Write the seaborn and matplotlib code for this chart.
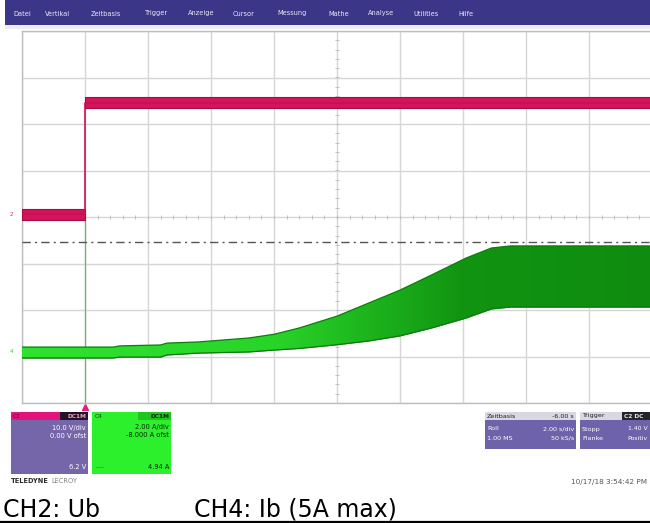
import numpy as np
import matplotlib
matplotlib.use("Agg")
import matplotlib.pyplot as plt
import seaborn as sns
from matplotlib.patches import Rectangle
from matplotlib.lines import Line2D
from matplotlib.colors import LinearSegmentedColormap

# ---------------- data ----------------
# CH2: Ub  (10 V/div), step at trigger
ub_t = [0.0, 2.0, 2.0, 20.0]          # s
ub_v = [0.0, 0.0, 24.0, 24.0]         # V
ub_ripple = 1.2                       # V (half band width)

# CH4: Ib  (2 A/div) envelope of the current
ib_t = [0.0, 1.0, 2.0, 2.9, 3.1, 4.4, 4.6, 5.6, 7.2, 8.0, 8.8, 10.0,
        11.0, 12.0, 13.0, 14.1, 14.9, 15.5, 20.0]
ib_hi = [0.17, 0.17, 0.17, 0.17, 0.22, 0.26, 0.34, 0.39, 0.56, 0.72, 0.99,
         1.50, 2.06, 2.62, 3.27, 4.00, 4.43, 4.52, 4.52]
ib_lo = [-0.30, -0.30, -0.30, -0.30, -0.26, -0.26, -0.17, -0.09, -0.04, 0.04,
         0.11, 0.27, 0.43, 0.65, 0.99, 1.42, 1.81, 1.89, 1.89]
ib_cursor = 4.7                       # A, dash-dot horizontal cursor

# scope settings
time_per_div = 2.0
ub_per_div, ub_zero_div = 10.0, 0.054
ib_per_div, ib_zero_div = 2.0, -2.882

menu_items = ["Datei", "Vertikal", "Zeitbasis", "Trigger", "Anzeige", "Cursor",
              "Messung", "Mathe", "Analyse", "Utilities", "Hilfe"]
menu_x = [13, 45, 91, 145, 188, 233, 277, 328, 368, 413, 458]

# ---------------- figure ----------------
W, H = 650, 523
sns.set_theme(style="white")
plt.rcParams["font.family"] = ["DejaVu Sans"]

fig = plt.figure(figsize=(W / 100, H / 100), dpi=100)
fig.patch.set_facecolor("white")


def fx(x):
    return x / W


def fy(y):
    return 1 - y / H


def rect(x0, y0, x1, y1, color, z=1):
    fig.add_artist(Rectangle((fx(x0), fy(y1)), (x1 - x0) / W, (y1 - y0) / H,
                             transform=fig.transFigure, facecolor=color,
                             edgecolor="none", zorder=z))


def ftext(x, y, s, ha="left", color="white", size=4.6, weight="normal", z=3):
    fig.text(fx(x), fy(y), s, ha=ha, va="center", color=color, fontsize=size,
             fontweight=weight, zorder=z)


# menu bar
rect(5, 0, 650, 25, "#3b3688")
rect(5, 25, 650, 29, "#ececf2")
for lbl, x in zip(menu_items, menu_x):
    ftext(x, 13.5, lbl, color="#e8e8f4", size=4.8)

# main graticule axes
L, R, T, B = 22, 652, 31, 403
ax = fig.add_axes([fx(L), fy(B), (R - L) / W, (B - T) / H])
ax.set_xlim(0, 10 * time_per_div)
ax.set_ylim(-4, 4)
ax.set_xticks(np.arange(0, 10 * time_per_div + 0.1, time_per_div))
ax.set_yticks(np.arange(-4, 5, 1))
ax.grid(True, color="#d6d6d6", lw=1.0)
ax.tick_params(length=0, labelbottom=False, labelleft=False)
for s in ax.spines.values():
    s.set_color("#bdbdbd")
    s.set_linewidth(1.0)
ax.set_facecolor("white")

# centre-line minor ticks
cx = 5 * time_per_div
ax.plot(np.arange(0, 20.01, 0.4), np.zeros(51), ls="none", marker="|",
        ms=3, color="#c0c0c0", mew=0.7)
ax.plot(np.full(41, cx), np.arange(-4, 4.01, 0.2), ls="none", marker="_",
        ms=3, color="#c0c0c0", mew=0.7)

# trigger time marker line
trig_t = ub_t[1]
ax.axvline(trig_t, ymin=0, ymax=(4 - 0.04) / 8, color="#5cbf5c", lw=0.9, zorder=1)
ax.plot(trig_t, -4.09, marker="^", ms=4, color="#e0207a", clip_on=False)

# CH4 axis (amps)
ax_ib = ax.twinx()
ax_ib.set_ylim((-4 - ib_zero_div) * ib_per_div, (4 - ib_zero_div) * ib_per_div)
ax_ib.set_axis_off()
ax_ib.axhline(ib_cursor, color="#555555", lw=1.0, ls=(0, (6, 3, 1.5, 3)), zorder=1)
poly = ax_ib.fill_between(ib_t, ib_lo, ib_hi, color="#129a12", lw=0, zorder=2)
ramp = np.linspace(0, 1, 256).reshape(1, -1)
gcmap = LinearSegmentedColormap.from_list(
    "g", [(0, "#2fe22f"), (0.40, "#29d429"), (0.55, "#1db41d"),
          (0.70, "#119411"), (1.0, "#0f8c0f")])
ylo, yhi = ax_ib.get_ylim()
im = ax_ib.imshow(ramp, extent=(0, 20, ylo, yhi), aspect="auto", cmap=gcmap,
                  zorder=2.5, interpolation="bilinear")
im.set_clip_path(poly.get_paths()[0], transform=ax_ib.transData)
sns.lineplot(x=ib_t, y=ib_hi, color="#0c7d0c", lw=0.9, ax=ax_ib,
             estimator=None, sort=False, zorder=3)
sns.lineplot(x=ib_t, y=ib_lo, color="#0c7d0c", lw=0.9, ax=ax_ib,
             estimator=None, sort=False, zorder=3)
ax_ib.set_ylim(ylo, yhi)
ax_ib.text(-0.35, 0, "4", color="#33cc33", fontsize=4, ha="center",
           va="center", clip_on=False)

# CH2 axis (volts)
ax_ub = ax.twinx()
ax_ub.set_ylim((-4 - ub_zero_div) * ub_per_div, (4 - ub_zero_div) * ub_per_div)
ax_ub.set_axis_off()
v = np.array(ub_v)
ax_ub.fill_between(ub_t[:2], v[:2] - ub_ripple, v[:2] + ub_ripple,
                   facecolor="#d3145d", edgecolor="#a30c48", lw=0.8, zorder=3)
ax_ub.fill_between(ub_t[2:], v[2:] - ub_ripple, v[2:] + ub_ripple,
                   facecolor="#d3145d", edgecolor="#a30c48", lw=0.8, zorder=3)
sns.lineplot(x=ub_t, y=ub_v, color="#c8104f", lw=1.2, ax=ax_ub,
             estimator=None, sort=False, zorder=3)
ax_ub.text(-0.35, 0, "2", color="#e0207a", fontsize=4, ha="center",
           va="center", clip_on=False)

ax.set_xlim(0, 10 * time_per_div)
ax_ib.set_xlim(0, 10 * time_per_div)

# ---------------- info boxes ----------------
# CH2
rect(11, 412, 60, 420, "#e4137c")
rect(60, 412, 88, 420, "#24122a")
rect(11, 420, 88, 474, "#7466a8")
ftext(13, 416, "C2", color="#5a0030", size=4.2)
ftext(86, 416, "DC1M", ha="right", color="#f0a0c8", size=4.2, weight="bold")
ftext(86, 428, "10.0 V/div", ha="right", size=4.8)
ftext(86, 436, "0.00 V ofst", ha="right", size=4.8)
ftext(86, 467, "6.2 V", ha="right", size=4.8)
# CH4
rect(92, 412, 171, 474, "#2cf02c")
rect(138, 412, 171, 420, "#1fc41f")
ftext(95, 416, "C4", color="#1a3a1a", size=4.2)
ftext(169, 416, "DC1M", ha="right", color="#102010", size=4.2, weight="bold")
ftext(169, 427, "2.00 A/div", ha="right", color="#102010", size=4.8)
ftext(169, 435, "-8.000 A ofst", ha="right", color="#102010", size=4.8)
ftext(96, 467, "----", color="#4a6a4a", size=4.8)
ftext(169, 467, "4.94 A", ha="right", color="#102010", size=4.8)
ftext(11, 481, "TELEDYNE", color="#2a2a2a", size=4.8, weight="bold")
ftext(51, 481, "LECROY", color="#808080", size=4.8)

# Timebase
rect(485, 412, 576, 420, "#d8d8e2")
rect(485, 420, 576, 449, "#6e62aa")
ftext(487, 416, "Zeitbasis", color="#202020", size=4.6)
ftext(574, 416, "-6.00 s", ha="right", color="#202020", size=4.6)
ftext(487, 429, "Roll", size=4.6)
ftext(574, 429, "2.00 s/div", ha="right", size=4.6)
ftext(487, 438, "1.00 MS", size=4.6)
ftext(574, 438, "50 kS/s", ha="right", size=4.6)
# Trigger
rect(580, 412, 650, 420, "#d8d8e2")
rect(622, 412, 650, 420, "#24242a")
rect(580, 420, 650, 449, "#6e62aa")
ftext(582, 416, "Trigger", color="#202020", size=4.6)
ftext(624, 416, "C2 DC", color="#e8e8e8", size=4.2, weight="bold")
ftext(582, 429, "Stopp", size=4.6)
ftext(648, 429, "1.40 V", ha="right", size=4.4)
ftext(582, 438, "Flanke", size=4.6)
ftext(648, 438, "Positiv", ha="right", size=4.4)

ftext(647, 482, "10/17/18 3:54:42 PM", ha="right", color="#555555", size=5.2)

# ---------------- caption ----------------
fig.text(fx(3), fy(517), "CH2: Ub", ha="left", va="baseline", fontsize=17,
         color="black")
fig.text(fx(194), fy(517), "CH4: Ib (5A max)", ha="left", va="baseline",
         fontsize=17, color="black")
fig.add_artist(Line2D([0, 1], [fy(521.5), fy(521.5)], color="black", lw=1.6,
                      transform=fig.transFigure))

fig.savefig("out.png", dpi=100)
